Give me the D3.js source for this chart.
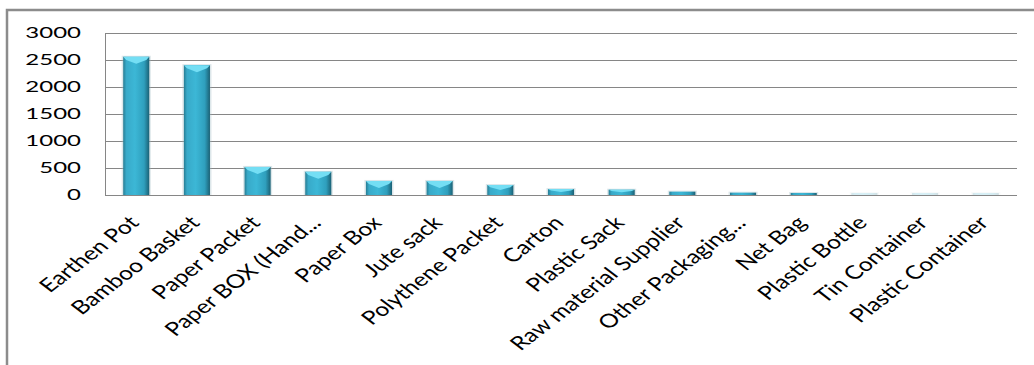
<!DOCTYPE html>
<html>
<head>
<meta charset="utf-8">
<script src="https://cdn.jsdelivr.net/npm/d3@7"></script>
<style>
  body { margin: 0; background: #fff; }
  svg { display: block; }
  text { font-family: Lato, "Open Sans", sans-serif; fill: #000; }
</style>
</head>
<body>
<svg class="chart" width="1034" height="365"></svg>
<script>
const categories = [
  "Earthen Pot", "Bamboo Basket", "Paper Packet", "Paper BOX (Hand...",
  "Paper Box", "Jute sack", "Polythene Packet", "Carton", "Plastic Sack",
  "Raw material Supplier", "Other Packaging...", "Net Bag", "Plastic Bottle",
  "Tin Container", "Plastic Container"
];
const counts = [2560, 2405, 520, 430, 260, 260, 185, 110, 98, 62, 43, 15, 2, 2, 2];
const yTicks = [0, 500, 1000, 1500, 2000, 2500, 3000];

const svg = d3.select(".chart");
const SX = 1.6;      // the picture is stretched sideways
const SX_CAT = 1.3;  // category labels sit steeper

// outer frame, cut off at the bottom and right
svg.append("path")
  .attr("d", "M7,365 V10 H1034")
  .attr("fill", "none")
  .attr("stroke", "#8c8c8c")
  .attr("stroke-width", 2.5);

const plot = { left: 105, right: 1017, top: 33, bottom: 195 };

const x = d3.scaleBand()
  .domain(categories)
  .range([plot.left, plot.right])
  .paddingInner(0.57)
  .paddingOuter(0.3);

const y = d3.scaleLinear()
  .domain([0, 3000])
  .range([plot.bottom, plot.top]);

// gridlines
svg.append("g")
  .selectAll("line")
  .data(yTicks)
  .join("line")
  .attr("x1", plot.left)
  .attr("x2", plot.right)
  .attr("y1", d => Math.round(y(d)) + 0.5)
  .attr("y2", d => Math.round(y(d)) + 0.5)
  .attr("stroke", "#868686")
  .attr("stroke-width", 1);

svg.append("line")
  .attr("x1", plot.left + 0.5)
  .attr("x2", plot.left + 0.5)
  .attr("y1", plot.top)
  .attr("y2", plot.bottom + 1)
  .attr("stroke", "#868686");

// y labels
svg.append("g")
  .selectAll("text")
  .data(yTicks)
  .join("text")
  .attr("transform", d => `translate(81, ${y(d)}) scale(${SX}, 1)`)
  .attr("text-anchor", "end")
  .attr("dy", "0.36em")
  .style("font-size", "15px")
  .text(d => d);

// bar gradient
const defs = svg.append("defs");
const grad = defs.append("linearGradient").attr("id", "barGrad");
[["0%", "#277d94"], ["12%", "#38aac9"], ["45%", "#3cb7d6"], ["80%", "#2f9fbd"], ["100%", "#1b6175"]]
  .forEach(([o, c]) => grad.append("stop").attr("offset", o).attr("stop-color", c));

const bars = svg.append("g")
  .selectAll("g")
  .data(categories.map((c, i) => ({ c, v: counts[i] })))
  .join("g")
  .style("opacity", d => d.v < 5 ? 0.2 : 1);

const bw = x.bandwidth();
const barTop = d => Math.min(y(d.v), plot.bottom - 2);

// soft shadow
bars.append("rect")
  .attr("x", d => x(d.c) - 1.5)
  .attr("y", d => barTop(d) - 1)
  .attr("width", bw + 3)
  .attr("height", d => plot.bottom - barTop(d) + 1)
  .attr("fill", "#9fb9c2")
  .attr("opacity", 0.35);

bars.append("rect")
  .attr("x", d => x(d.c))
  .attr("y", barTop)
  .attr("width", bw)
  .attr("height", d => plot.bottom - barTop(d))
  .attr("fill", "url(#barGrad)");

// light bevel on the top
bars.filter(d => plot.bottom - barTop(d) > 5)
  .append("path")
  .attr("d", d => {
    const x0 = x(d.c), x1 = x0 + bw, t = barTop(d), xc = x0 + bw / 2;
    const k = Math.min(7, (plot.bottom - t) / 2);
    return `M${x0},${t} H${x1} L${x1 - 3},${t + k * 0.45} L${xc},${t + k} L${x0 + 3},${t + k * 0.45} Z`;
  })
  .attr("fill", "#74def4");

// category labels
svg.append("g")
  .selectAll("text")
  .data(categories)
  .join("text")
  .attr("transform", d => `translate(${x(d) + bw / 2 + 4}, 224) scale(${SX_CAT}, 1) rotate(-45)`)
  .attr("text-anchor", "end")
  .style("font-size", "19px")
  .text(d => d);
</script>
</body>
</html>
